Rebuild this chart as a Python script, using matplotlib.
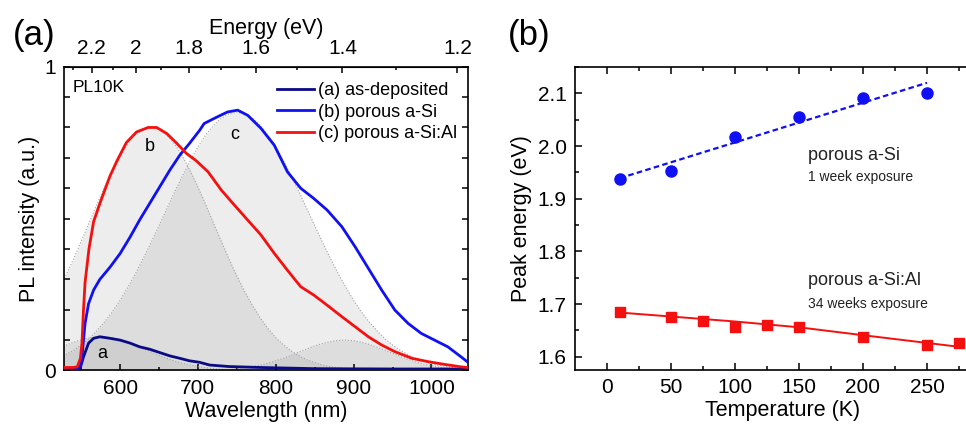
import numpy as np
import matplotlib
matplotlib.use('Agg')
import matplotlib.pyplot as plt
from matplotlib.ticker import MultipleLocator, FixedLocator, FuncFormatter

plt.rcParams['font.family'] = ['Liberation Sans', 'DejaVu Sans']

# ---- (a) PL spectra at 10 K ----
wl_asdep = [528, 546, 549, 553, 559.5, 566, 574, 587, 600, 613, 625, 638, 651, 664,
            677, 689, 702, 715, 740, 779, 850, 950, 1046]
pl_asdep = [0.003, 0.003, 0.01, 0.045, 0.09, 0.106, 0.111, 0.106, 0.10, 0.09, 0.078,
            0.07, 0.059, 0.048, 0.04, 0.032, 0.027, 0.018, 0.013, 0.01, 0.006, 0.005, 0.005]

wl_si = [528, 545, 549, 551, 555, 559.5, 566, 574, 587, 600, 613, 625, 638, 651, 664,
         677, 689, 702, 708, 721, 738, 751, 764, 781, 798, 815, 832, 849, 866, 885,
         902, 919, 936, 953, 970, 987, 1004, 1021, 1038, 1046]
pl_si = [0.005, 0.005, 0.015, 0.045, 0.155, 0.22, 0.265, 0.30, 0.34, 0.385, 0.44,
         0.495, 0.55, 0.605, 0.66, 0.71, 0.747, 0.79, 0.813, 0.83, 0.851, 0.857, 0.84,
         0.797, 0.742, 0.654, 0.60, 0.566, 0.528, 0.473, 0.407, 0.336, 0.265, 0.199,
         0.155, 0.122, 0.10, 0.078, 0.045, 0.029]

wl_al = [528, 540, 545, 549, 551, 553, 555, 560, 566, 574, 587, 596, 608, 621, 636,
         647, 660, 672, 685, 698, 713, 730, 747, 764, 781, 798, 815, 832, 849, 866,
         885, 902, 919, 936, 953, 975, 996, 1017, 1038, 1046]
pl_al = [0.01, 0.01, 0.012, 0.04, 0.09, 0.20, 0.29, 0.40, 0.49, 0.55, 0.64, 0.69,
         0.75, 0.785, 0.80, 0.80, 0.78, 0.75, 0.715, 0.69, 0.654, 0.594, 0.544, 0.495,
         0.446, 0.386, 0.33, 0.276, 0.248, 0.215, 0.177, 0.144, 0.111, 0.084, 0.062,
         0.04, 0.029, 0.02, 0.012, 0.01]

# fitted components (grey), sampled every 10 nm from 520 to 1050 nm
fit_wl = np.arange(520, 1051, 10)
fit_a = [0.072, 0.083, 0.093, 0.101, 0.107, 0.110, 0.110, 0.107, 0.101, 0.093, 0.083,
         0.072, 0.061, 0.050, 0.040, 0.031, 0.024, 0.018, 0.013, 0.009, 0.006, 0.004,
         0.003, 0.002, 0.001] + [0.0] * 29
fit_b = [0.260, 0.311, 0.366, 0.425, 0.485, 0.546, 0.604, 0.658, 0.706, 0.746, 0.775,
         0.794, 0.800, 0.794, 0.775, 0.746, 0.706, 0.658, 0.604, 0.546, 0.485, 0.425,
         0.366, 0.311, 0.260, 0.214, 0.173, 0.138, 0.108, 0.084, 0.064, 0.048, 0.035,
         0.026, 0.018, 0.013, 0.009, 0.006, 0.004, 0.003, 0.002, 0.001] + [0.0] * 12
fit_c = [0.040, 0.052, 0.066, 0.084, 0.105, 0.131, 0.160, 0.193, 0.231, 0.274, 0.320,
         0.370, 0.422, 0.477, 0.532, 0.587, 0.640, 0.690, 0.736, 0.775, 0.807, 0.830,
         0.845, 0.850, 0.845, 0.830, 0.807, 0.775, 0.736, 0.690, 0.640, 0.587, 0.532,
         0.477, 0.422, 0.370, 0.320, 0.274, 0.231, 0.193, 0.160, 0.131, 0.105, 0.084,
         0.066, 0.052, 0.040, 0.030, 0.023, 0.017, 0.013, 0.009, 0.007, 0.005]
fit_d = [0.0] * 20 + [0.001, 0.002, 0.004, 0.006, 0.009, 0.013, 0.018, 0.024, 0.032,
                      0.040, 0.050, 0.061, 0.071, 0.081, 0.089, 0.095, 0.099, 0.100,
                      0.098, 0.093, 0.086, 0.077, 0.067, 0.057, 0.046, 0.037, 0.028,
                      0.021, 0.016, 0.011, 0.008, 0.005, 0.003, 0.002]

energy_ticks = [2.2, 2.0, 1.8, 1.6, 1.4, 1.2]
energy_labels = ['2.2', '2', '1.8', '1.6', '1.4', '1.2']
energy_minor = [2.3, 2.1, 1.9, 1.7, 1.5, 1.3]

# ---- (b) peak energy vs temperature ----
T_si = [10, 50, 100, 150, 200, 250]
E_si = [1.937, 1.953, 2.017, 2.056, 2.092, 2.101]
T_si_fit = [10, 250]
E_si_fit = [1.939, 2.120]

T_al = [10, 50, 75, 100, 125, 150, 200, 250, 275]
E_al = [1.685, 1.675, 1.668, 1.657, 1.660, 1.656, 1.638, 1.622, 1.627]
T_al_fit = [10, 100, 150, 200, 275]
E_al_fit = [1.684, 1.667, 1.656, 1.641, 1.619]

temp_ticks = [0, 50, 100, 150, 200, 250]
temp_minor = [25, 75, 125, 175, 225, 275]

navy = '#0a0a85'
blue = '#1010f5'
red = '#f51010'

fig = plt.figure(figsize=(9.66, 4.26), dpi=100)

# ---------------- panel (a) ----------------
ax = fig.add_axes([0.0663, 0.1303, 0.4182, 0.7131])
for comp in (fit_a, fit_b, fit_c, fit_d):
    ax.fill_between(fit_wl, 0, comp, color='#808080', alpha=0.14, lw=0, zorder=1)
    ax.plot(fit_wl, comp, color='#a0a0a0', ls=':', lw=0.8, zorder=2)

ax.plot(wl_asdep, pl_asdep, color=navy, lw=2.0, label='(a) as-deposited', zorder=4)
ax.plot(wl_si, pl_si, color=blue, lw=2.0, label='(b) porous a-Si', zorder=4)
ax.plot(wl_al, pl_al, color=red, lw=2.0, label='(c) porous a-Si:Al', zorder=5)

ax.set_xlim(528, 1047)
ax.set_ylim(0, 1)
ax.xaxis.set_major_locator(MultipleLocator(100))
ax.xaxis.set_minor_locator(MultipleLocator(50))
ax.yaxis.set_major_locator(MultipleLocator(0.1))
ax.yaxis.set_major_formatter(FuncFormatter(lambda v, p: '0' if abs(v) < 1e-6 else ('1' if abs(v - 1) < 1e-6 else '')))
ax.tick_params(which='both', direction='in', top=False, right=True, labelsize=15, width=1.1)
ax.tick_params(which='major', length=4.5, pad=6)
ax.tick_params(which='minor', length=2.5)
for s in ax.spines.values():
    s.set_linewidth(1.2)
ax.set_xlabel('Wavelength (nm)', fontsize=15.5, labelpad=2)
ax.set_ylabel('PL intensity (a.u.)', fontsize=15.5, labelpad=3)

sec = ax.secondary_xaxis('top', functions=(lambda w: 1240.0 / np.maximum(w, 1e-9),
                                           lambda e: 1240.0 / np.maximum(e, 1e-9)))
sec.xaxis.set_major_locator(FixedLocator(energy_ticks))
sec.xaxis.set_minor_locator(FixedLocator(energy_minor))
sec.set_xticklabels(energy_labels)
sec.tick_params(which='both', direction='in', labelsize=15, width=1.1, pad=6)
sec.tick_params(which='major', length=4.5)
sec.tick_params(which='minor', length=2.5)
sec.set_xlabel('Energy (eV)', fontsize=15.5, labelpad=4)

ax.legend(loc='upper right', bbox_to_anchor=(1.0, 0.985), frameon=False, fontsize=13,
          handlelength=2.1, handletextpad=0.2, labelspacing=0.25, borderaxespad=0.2)
ax.text(0.02, 0.93, 'PL10K', transform=ax.transAxes, fontsize=12.5, va='center')
ax.text(577, 0.057, 'a', fontsize=13, ha='center', va='center', zorder=6)
ax.text(638, 0.736, 'b', fontsize=13, ha='center', va='center', zorder=6)
ax.text(747, 0.777, 'c', fontsize=13, ha='center', va='center', zorder=6)
fig.text(13 / 966, 1 - 35 / 426, '(a)', fontsize=25, va='center', ha='left')

# ---------------- panel (b) ----------------
bx = fig.add_axes([575 / 966, 0.1315, 416 / 966, 0.7112])
bx.plot(T_si_fit, E_si_fit, color=blue, ls=(0, (2.5, 1.5)), lw=1.6, zorder=2)
bx.plot(T_si, E_si, 'o', color=blue, ms=8, zorder=3)
bx.plot(T_al_fit, E_al_fit, color=red, lw=1.4, zorder=2)
bx.plot(T_al, E_al, 's', color=red, ms=7, zorder=3)

bx.set_xlim(-25, 300)
bx.set_ylim(1.575, 2.15)
bx.xaxis.set_major_locator(FixedLocator(temp_ticks))
bx.xaxis.set_minor_locator(FixedLocator(temp_minor))
bx.yaxis.set_major_locator(MultipleLocator(0.1))
bx.yaxis.set_minor_locator(MultipleLocator(0.05))
bx.tick_params(which='both', direction='in', top=True, right=True, labelsize=15, width=1.1)
bx.tick_params(which='major', length=5, pad=6)
bx.tick_params(which='minor', length=2.8)
for s in bx.spines.values():
    s.set_linewidth(1.2)
bx.set_xlabel('Temperature (K)', fontsize=15.5, labelpad=2)
bx.set_ylabel('Peak energy (eV)', fontsize=15.5, labelpad=4)

bx.text(157, 1.983, 'porous a-Si', fontsize=13, va='center', color='#222222')
bx.text(157, 1.942, '1 week exposure', fontsize=10, va='center', color='#222222')
bx.text(157, 1.7455, 'porous a-Si:Al', fontsize=13, va='center', color='#222222')
bx.text(157, 1.701, '34 weeks exposure', fontsize=10, va='center', color='#222222')
fig.text(508 / 966, 1 - 35 / 426, '(b)', fontsize=25, va='center', ha='left')

fig.savefig('out.png', dpi=100)
